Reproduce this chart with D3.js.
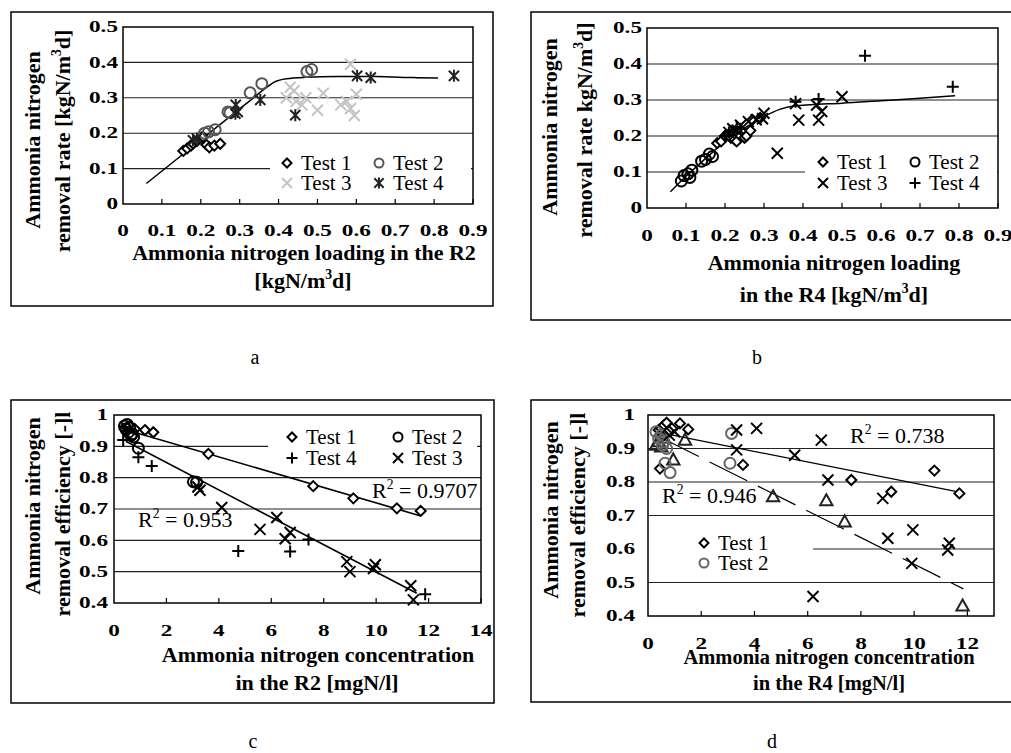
<!DOCTYPE html>
<html><head><meta charset="utf-8">
<script src="https://cdn.jsdelivr.net/npm/d3@7"></script>
<style>
body{margin:0;background:#fff}
svg{display:block}
text{font-family:"Liberation Serif","Times New Roman",serif;fill:#000}
</style>
</head><body>
<svg id="chart" width="1011" height="753"></svg>
<script>
// ---------------- DATA ----------------
// Panel a
const aXTicks = [0,0.1,0.2,0.3,0.4,0.5,0.6,0.7,0.8,0.9];
const aYTicks = [0,0.1,0.2,0.3,0.4,0.5];
const aTest1 = [[0.155,0.15],[0.165,0.157],[0.175,0.165],[0.18,0.171],[0.19,0.178],[0.2,0.185],[0.205,0.19],[0.215,0.167],[0.222,0.16],[0.235,0.165],[0.25,0.17]];
const aTest2 = [[0.21,0.2],[0.22,0.204],[0.237,0.21],[0.27,0.26],[0.275,0.258],[0.327,0.314],[0.357,0.34],[0.473,0.374],[0.485,0.38]];
const aTest3 = [[0.42,0.30],[0.43,0.33],[0.44,0.32],[0.445,0.29],[0.46,0.28],[0.47,0.30],[0.50,0.265],[0.515,0.313],[0.56,0.28],[0.575,0.29],[0.585,0.395],[0.585,0.27],[0.595,0.25],[0.60,0.31]];
const aTest4 = [[0.18,0.18],[0.19,0.185],[0.289,0.255],[0.29,0.28],[0.295,0.26],[0.353,0.294],[0.443,0.251],[0.602,0.362],[0.637,0.357],[0.851,0.362]];
const aCurve = [[0.06,0.058],[0.15,0.137],[0.25,0.225],[0.33,0.295],[0.37,0.33],[0.39,0.345],[0.42,0.354],[0.47,0.358],[0.55,0.36],[0.65,0.36],[0.75,0.357],[0.81,0.356]];
// Panel b
const bXTicks = [0,0.1,0.2,0.3,0.4,0.5,0.6,0.7,0.8,0.9];
const bYTicks = [0,0.1,0.2,0.3,0.4,0.5];
const bTest1 = [[0.18,0.18],[0.19,0.185],[0.2,0.2],[0.21,0.205],[0.215,0.195],[0.22,0.21],[0.225,0.19],[0.23,0.185],[0.24,0.2],[0.25,0.195],[0.255,0.2],[0.265,0.215],[0.27,0.245],[0.29,0.25]];
const bTest2 = [[0.088,0.075],[0.095,0.09],[0.105,0.095],[0.11,0.085],[0.115,0.105],[0.14,0.13],[0.15,0.135],[0.16,0.15],[0.168,0.143]];
const bTest3 = [[0.21,0.21],[0.22,0.22],[0.23,0.215],[0.24,0.23],[0.26,0.24],[0.28,0.245],[0.296,0.248],[0.3,0.263],[0.334,0.152],[0.381,0.29],[0.389,0.244],[0.435,0.286],[0.44,0.244],[0.448,0.268],[0.5,0.309]];
const bTest4 = [[0.2,0.2],[0.21,0.21],[0.22,0.215],[0.23,0.225],[0.24,0.22],[0.381,0.295],[0.44,0.303],[0.559,0.423],[0.784,0.337]];
const bCurve = [[0.06,0.045],[0.1,0.088],[0.15,0.137],[0.2,0.185],[0.25,0.222],[0.3,0.254],[0.34,0.274],[0.38,0.284],[0.42,0.287],[0.5,0.291],[0.6,0.298],[0.7,0.305],[0.79,0.312]];
// Panel c
const cXTicks = [0,2,4,6,8,10,12,14];
const cYTicks = [0.4,0.5,0.6,0.7,0.8,0.9,1];
const cTest1 = [[0.4,0.955],[0.5,0.96],[0.6,0.965],[0.8,0.955],[1.18,0.952],[1.5,0.945],[3.6,0.876],[7.6,0.773],[9.13,0.734],[10.79,0.702],[11.7,0.694]];
const cTest2 = [[0.4,0.965],[0.45,0.955],[0.5,0.97],[0.55,0.945],[0.6,0.96],[0.65,0.935],[0.7,0.94],[0.75,0.93],[0.93,0.894],[3.03,0.787],[3.15,0.785]];
const cTest3 = [[3.2,0.77],[3.28,0.76],[4.11,0.705],[5.57,0.635],[6.21,0.673],[6.53,0.605],[6.72,0.625],[8.88,0.532],[9.0,0.5],[9.9,0.51],[9.97,0.522],[11.32,0.455],[11.42,0.41]];
const cTest4 = [[0.35,0.92],[0.93,0.865],[1.44,0.837],[4.74,0.566],[6.72,0.564],[7.42,0.603],[11.87,0.428]];
const cTrend1 = [[0.45,0.953],[11.7,0.678]];
const cTrend2 = [[0.45,0.916],[11.55,0.431]];
// Panel d
const dXTicks = [0,2,4,6,8,10,12];
const dYTicks = [0.4,0.5,0.6,0.7,0.8,0.9,1];
const dTest1 = [[0.4,0.955],[0.5,0.96],[0.6,0.97],[0.7,0.977],[0.9,0.96],[1.2,0.975],[1.51,0.957],[0.45,0.84],[3.57,0.851],[7.64,0.806],[9.14,0.771],[10.76,0.834],[11.7,0.766]];
const dTest2 = [[0.3,0.95],[0.4,0.93],[0.5,0.94],[0.55,0.91],[0.6,0.92],[0.7,0.9],[0.64,0.856],[0.83,0.828],[3.08,0.856],[3.14,0.945]];
const dTest3 = [[0.8,0.94],[1.0,0.95],[3.33,0.955],[4.08,0.96],[3.33,0.896],[5.51,0.88],[6.51,0.925],[6.76,0.806],[6.2,0.458],[8.82,0.751],[9.01,0.632],[9.95,0.657],[9.91,0.557],[11.32,0.617],[11.26,0.597]];
const dTest4 = [[0.3,0.91],[0.4,0.92],[0.5,0.905],[0.6,0.93],[0.95,0.866],[1.39,0.925],[4.7,0.756],[6.7,0.744],[7.39,0.681],[11.82,0.43]];
const dTrend1 = [[0.4,0.948],[11.7,0.77]];
const dTrend2 = [[0.5,0.932],[11.85,0.481]];

// ---------------- DRAWING ----------------
const svg = d3.select('#chart');

function marker(g, type, x, y, color, s) {
  const m = g.append('g').attr('transform', `translate(${x},${y})`)
    .attr('stroke', color).attr('stroke-width', 2).attr('fill', 'none');
  if (type === 'diamond') {
    m.append('path').attr('d', `M0,${-s}L${s},0L0,${s}L${-s},0Z`).attr('fill', '#fff');
  } else if (type === 'circle') {
    m.append('circle').attr('r', s);
  } else if (type === 'cross') {
    m.append('path').attr('d', `M${-s},${-s}L${s},${s}M${-s},${s}L${s},${-s}`);
  } else if (type === 'plus') {
    m.append('path').attr('d', `M${-s},0L${s},0M0,${-s}L0,${s}`);
  } else if (type === 'star') {
    const k = s * 0.85;
    m.append('path').attr('d', `M${-k},${-k}L${k},${k}M${-k},${k}L${k},${-k}M0,${-s}L0,${s}`);
  } else if (type === 'triangle') {
    m.append('path').attr('d', `M0,${-s}L${s*0.95},${s*0.7}L${-s*0.95},${s*0.7}Z`);
  }
}

function rich(g, x, y, parts, fs, opts = {}) {
  const t = g.append('text').attr('x', x).attr('y', y).attr('font-size', fs)
    .attr('text-anchor', opts.anchor || 'start')
    .attr('font-weight', opts.bold ? 'bold' : 'normal');
  if (opts.transform) t.attr('transform', opts.transform);
  let up = false;
  parts.forEach(p => {
    const ts = t.append('tspan').text(p.t);
    if (p.sup) { ts.attr('font-size', fs * 0.62).attr('dy', -fs * 0.42); up = true; }
    else if (up) { ts.attr('dy', fs * 0.42); up = false; }
  });
  return t;
}

const TICK_SX = 1.45;

function panel(cfg) {
  const g = svg.append('g');
  g.append('rect').attr('x', cfg.box[0]).attr('y', cfg.box[1])
    .attr('width', cfg.box[2] - cfg.box[0]).attr('height', cfg.box[3] - cfg.box[1])
    .attr('fill', 'none').attr('stroke', '#000').attr('stroke-width', 1.5);
  const p = cfg.plot;
  const x = d3.scaleLinear().domain(cfg.xDomain).range([p.l, p.r]);
  const y = d3.scaleLinear().domain(cfg.yDomain).range([p.b, p.t]);
  g.append('g').selectAll('line').data(cfg.yTicks.slice(1, -1)).join('line')
    .attr('x1', p.l).attr('x2', p.r).attr('y1', d => y(d)).attr('y2', d => y(d))
    .attr('stroke', '#222').attr('stroke-width', 1.1);
  const lb = cfg.legendBox;
  g.append('rect').attr('x', lb[0]).attr('y', lb[1]).attr('width', lb[2] - lb[0]).attr('height', lb[3] - lb[1]).attr('fill', '#fff');
  g.append('g').selectAll('line').data(cfg.xTicks.slice(1)).join('line')
    .attr('x1', d => x(d)).attr('x2', d => x(d)).attr('y1', p.b).attr('y2', p.b - 5)
    .attr('stroke', '#000').attr('stroke-width', 1.2);
  g.append('rect').attr('x', p.l).attr('y', p.t).attr('width', p.r - p.l).attr('height', p.b - p.t)
    .attr('fill', 'none').attr('stroke', '#000').attr('stroke-width', 1.5);
  const fmt = cfg.fmt;
  g.append('g').selectAll('text').data(cfg.xTicks).join('text')
    .attr('transform', d => `translate(${x(d)},${cfg.xLabY}) scale(${TICK_SX},1)`)
    .attr('text-anchor', 'middle')
    .attr('font-size', cfg.tickFs).attr('font-weight', 'bold').text(fmt);
  g.append('g').selectAll('text').data(cfg.yTicks).join('text')
    .attr('transform', d => `translate(${cfg.yLabX},${y(d) + cfg.tickFs * 0.33}) scale(${TICK_SX},1)`)
    .attr('text-anchor', 'end')
    .attr('font-size', cfg.tickFs).attr('font-weight', 'bold').text(fmt);
  const line = d3.line().x(d => x(d[0])).y(d => y(d[1]));
  cfg.lines.forEach(L => {
    g.append('path').datum(L.data)
      .attr('d', line.curve(L.curve || d3.curveLinear))
      .attr('fill', 'none').attr('stroke', '#000').attr('stroke-width', L.w || 1.5)
      .attr('stroke-dasharray', L.dash || null);
  });
  cfg.series.forEach(s => {
    s.data.forEach(d => marker(g, s.type, x(d[0]), y(d[1]), s.color, s.size));
  });
  cfg.legend.forEach(e => {
    marker(g, e.type, e.x, e.y, e.color, e.size);
    g.append('text').attr('x', e.x + 14).attr('y', e.y + 7).attr('font-size', 21).text(e.label);
  });
  (cfg.r2 || []).forEach(r => {
    rich(g, r.x, r.y, [{t: 'R'}, {t: '2', sup: true}, {t: ' = ' + r.v}], 22);
  });
  cfg.xTitle.forEach(l => rich(g, l.x, l.y, l.parts, l.fs, {anchor: 'middle', bold: true}));
  cfg.yTitle.forEach(l => rich(g, 0, 0, l.parts, l.fs, {anchor: 'middle', bold: true, transform: `translate(${l.x},${l.y}) rotate(-90)`}));
  g.append('text').attr('x', cfg.cap[0]).attr('y', cfg.cap[1]).attr('text-anchor', 'middle').attr('font-size', 20).text(cfg.cap[2]);
}

const fmt1 = d => d === 0 ? '0' : d3.format('.1f')(d);
const fmtC = d => (d === 1 ? '1' : (d < 1.5 && d !== 0 ? d3.format('.1f')(d) : String(d)));

panel({
  box: [11, 12, 493, 306], plot: {l: 123, t: 27, r: 473, b: 204},
  xDomain: [0, 0.9], yDomain: [0, 0.5], xTicks: aXTicks, yTicks: aYTicks,
  fmt: fmt1, tickFs: 16, xLabY: 236, yLabX: 118,
  legendBox: [270, 152, 471, 196],
  lines: [{data: aCurve, curve: d3.curveMonotoneX}],
  series: [
    {data: aTest3, type: 'cross', color: '#c4c4c4', size: 5.5},
    {data: aTest1, type: 'diamond', color: '#000', size: 5},
    {data: aTest2, type: 'circle', color: '#555', size: 5.5},
    {data: aTest4, type: 'star', color: '#222', size: 6}
  ],
  legend: [
    {type: 'diamond', color: '#000', size: 4.5, x: 287, y: 163, label: 'Test 1'},
    {type: 'circle', color: '#555', size: 4.5, x: 379, y: 163, label: 'Test 2'},
    {type: 'cross', color: '#c4c4c4', size: 5, x: 287, y: 183, label: 'Test 3'},
    {type: 'star', color: '#222', size: 5.5, x: 379, y: 183, label: 'Test 4'}
  ],
  xTitle: [
    {x: 304, y: 260, fs: 22, parts: [{t: 'Ammonia nitrogen loading in the R2'}]},
    {x: 303, y: 288, fs: 22, parts: [{t: '[kgN/m'}, {t: '3', sup: true}, {t: 'd]'}]}
  ],
  yTitle: [
    {x: 40, y: 140, fs: 22, parts: [{t: 'Ammonia nitrogen'}]},
    {x: 70, y: 141, fs: 22, parts: [{t: 'removal rate [kgN/m'}, {t: '3', sup: true}, {t: 'd]'}]}
  ],
  cap: [255, 364, 'a']
});

panel({
  box: [531, 12, 1016, 320], plot: {l: 647, t: 28, r: 998, b: 208},
  xDomain: [0, 0.9], yDomain: [0, 0.5], xTicks: bXTicks, yTicks: bYTicks,
  fmt: fmt1, tickFs: 16, xLabY: 241, yLabX: 642,
  legendBox: [805, 150, 997, 196],
  lines: [{data: bCurve, curve: d3.curveMonotoneX}],
  series: [
    {data: bTest1, type: 'diamond', color: '#000', size: 5},
    {data: bTest2, type: 'circle', color: '#000', size: 5.5},
    {data: bTest3, type: 'cross', color: '#000', size: 5.5},
    {data: bTest4, type: 'plus', color: '#000', size: 6}
  ],
  legend: [
    {type: 'diamond', color: '#000', size: 4.5, x: 823, y: 162, label: 'Test 1'},
    {type: 'circle', color: '#000', size: 4.5, x: 915, y: 162, label: 'Test 2'},
    {type: 'cross', color: '#000', size: 5, x: 823, y: 183, label: 'Test 3'},
    {type: 'plus', color: '#000', size: 5.5, x: 915, y: 183, label: 'Test 4'}
  ],
  xTitle: [
    {x: 834, y: 270, fs: 22, parts: [{t: 'Ammonia nitrogen loading'}]},
    {x: 834, y: 302, fs: 22, parts: [{t: 'in the R4 [kgN/m'}, {t: '3', sup: true}, {t: 'd]'}]}
  ],
  yTitle: [
    {x: 557, y: 127, fs: 22, parts: [{t: 'Ammonia nitrogen'}]},
    {x: 592, y: 130, fs: 22, parts: [{t: 'removal rate kgN/m'}, {t: '3', sup: true}, {t: 'd]'}]}
  ],
  cap: [757, 364, 'b']
});

panel({
  box: [11, 400, 494, 703], plot: {l: 114, t: 415, r: 481, b: 603},
  xDomain: [0, 14], yDomain: [0.4, 1], xTicks: cXTicks, yTicks: cYTicks,
  fmt: fmtC, tickFs: 16, xLabY: 636, yLabX: 108,
  legendBox: [268, 423, 477, 470],
  lines: [{data: cTrend1, w: 1.6}, {data: cTrend2, w: 1.6}],
  series: [
    {data: cTest1, type: 'diamond', color: '#000', size: 5},
    {data: cTest2, type: 'circle', color: '#000', size: 5.5},
    {data: cTest3, type: 'cross', color: '#000', size: 5.5},
    {data: cTest4, type: 'plus', color: '#000', size: 6}
  ],
  legend: [
    {type: 'diamond', color: '#000', size: 4.5, x: 292, y: 437, label: 'Test 1'},
    {type: 'circle', color: '#000', size: 4.5, x: 398, y: 437, label: 'Test 2'},
    {type: 'plus', color: '#000', size: 5.5, x: 292, y: 458, label: 'Test 4'},
    {type: 'cross', color: '#000', size: 5, x: 398, y: 458, label: 'Test 3'}
  ],
  r2: [{x: 372, y: 498, v: '0.9707'}, {x: 138, y: 527, v: '0.953'}],
  xTitle: [
    {x: 318, y: 662, fs: 22, parts: [{t: 'Ammonia nitrogen concentration'}]},
    {x: 317, y: 690, fs: 22, parts: [{t: 'in the R2 [mgN/l]'}]}
  ],
  yTitle: [
    {x: 40, y: 506, fs: 22, parts: [{t: 'Ammonia nitrogen'}]},
    {x: 70, y: 514, fs: 22, parts: [{t: 'removal efficiency [-]l'}]}
  ],
  cap: [253, 748, 'c']
});

panel({
  box: [531, 400, 1016, 702], plot: {l: 648, t: 415, r: 994, b: 616},
  xDomain: [0, 13], yDomain: [0.4, 1], xTicks: dXTicks, yTicks: dYTicks,
  fmt: fmtC, tickFs: 16, xLabY: 649, yLabX: 635,
  legendBox: [648, 522, 813, 577],
  lines: [{data: dTrend1, w: 1.2}, {data: dTrend2, w: 1.2, dash: '42,12'}],
  series: [
    {data: dTest4, type: 'triangle', color: '#222', size: 6.5},
    {data: dTest1, type: 'diamond', color: '#000', size: 5},
    {data: dTest2, type: 'circle', color: '#666', size: 5.5},
    {data: dTest3, type: 'cross', color: '#000', size: 5.5}
  ],
  legend: [
    {type: 'diamond', color: '#000', size: 4.5, x: 704, y: 543, label: 'Test 1'},
    {type: 'circle', color: '#666', size: 4.5, x: 704, y: 563, label: 'Test 2'}
  ],
  r2: [{x: 850, y: 443, v: '0.738'}, {x: 662, y: 503, v: '0.946'}],
  xTitle: [
    {x: 829, y: 664, fs: 20.5, parts: [{t: 'Ammonia nitrogen concentration'}]},
    {x: 829, y: 690, fs: 20.5, parts: [{t: 'in the R4 [mgN/l]'}]}
  ],
  yTitle: [
    {x: 558, y: 510, fs: 22, parts: [{t: 'Ammonia nitrogen'}]},
    {x: 585, y: 515, fs: 22, parts: [{t: 'removal efficiency [-]l'}]}
  ],
  cap: [772, 748, 'd']
});
</script>
</body></html>
